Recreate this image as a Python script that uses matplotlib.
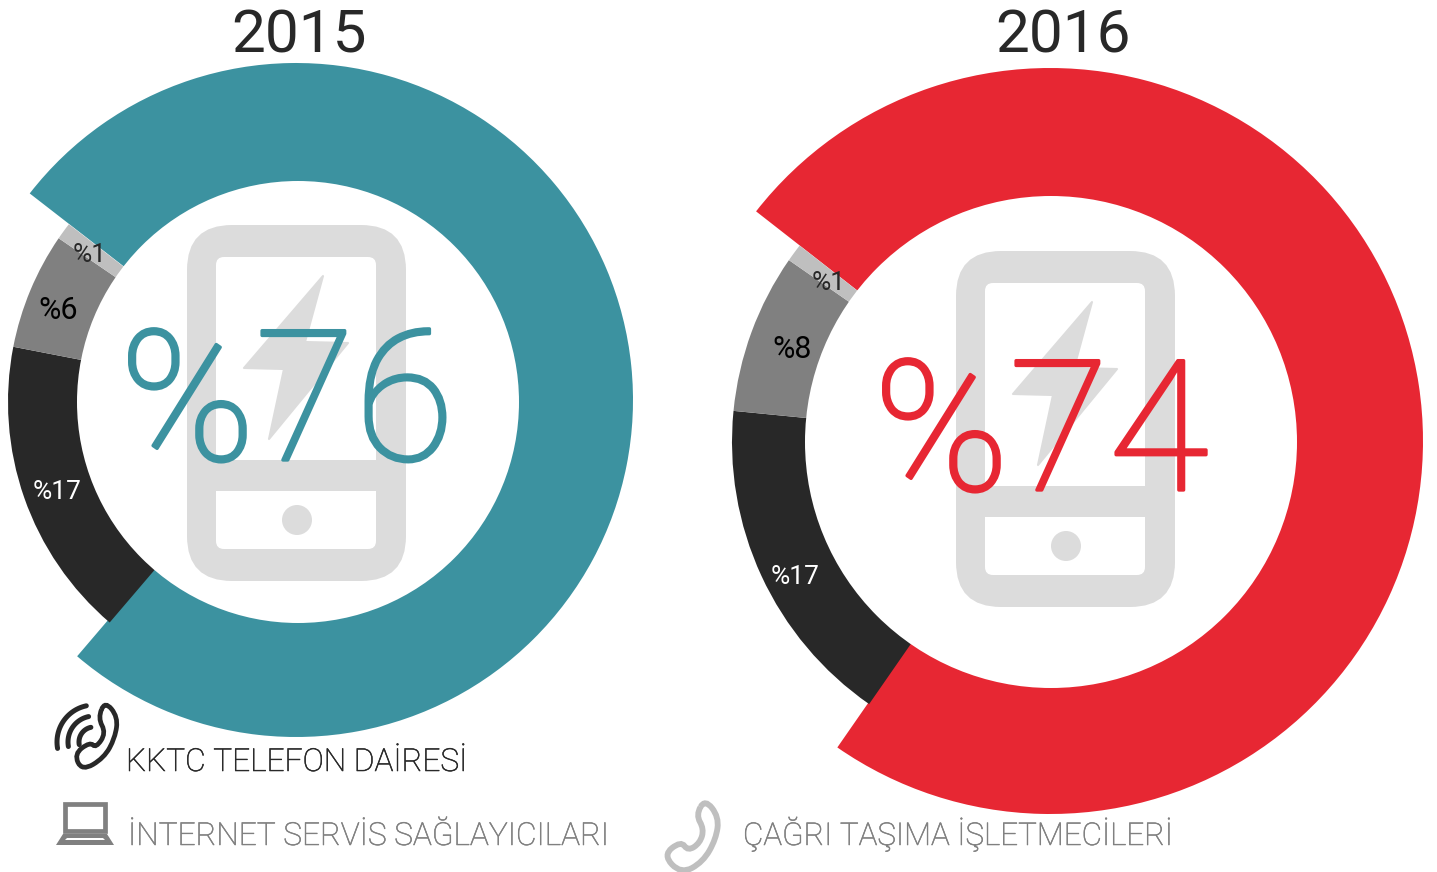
import numpy as np
import matplotlib
matplotlib.use("Agg")
import matplotlib.pyplot as plt
import matplotlib.patheffects as pe
from matplotlib.patches import FancyBboxPatch, Circle, Polygon, PathPatch, Rectangle
from matplotlib.path import Path

W, H = 1437, 872

years = ["2015", "2016"]
values_2015 = [75.75, 16.8, 6.5, 0.95]
values_2016 = [74.1, 16.9, 8.1, 0.9]
labels_2015 = ["%17", "%6", "%1"]
labels_2016 = ["%17", "%8", "%1"]
big_2015 = "%76"
big_2016 = "%74"
legend_labels = ["KKTC TELEFON DAİRESİ", "İNTERNET SERVİS SAĞLAYICILARI", "ÇAĞRI TAŞIMA İŞLETMECİLERİ"]

TEAL, RED, DARK, GRAY, LIGHT, PHONE = "#3C92A0", "#E72733", "#282828", "#808080", "#BFBFBF", "#DCDCDC"

plt.rcParams["font.family"] = ["Roboto", "DejaVu Sans"]
fig = plt.figure(figsize=(W / 100, H / 100), dpi=100)
ax = fig.add_axes([0, 0, 1, 1])


def Y(y):
    return H - y


def donut(values, main, cx, cy, R, hx, hy, r, cx2, cy2, R2, r2, start):
    wedges, _ = ax.pie(values, colors=[main, DARK, GRAY, LIGHT], startangle=start, counterclock=False,
                       center=(cx, Y(cy)), radius=R, frame=True,
                       wedgeprops=dict(width=R - r + 20, linewidth=0))
    for w in wedges[1:]:
        w.set_center((cx2, Y(cy2)))
        w.set_radius(R2)
        w.set_width(R2 - r2 + 15)
    for w in wedges:
        w.set_zorder(2)
    ax.add_patch(Circle((hx, Y(hy)), r, fc="white", ec="none", zorder=2.5))


donut(values_2015, TEAL, 296, 400, 337, 298, 402, 221, 298, 402, 290, 220, 142.2)
donut(values_2016, RED, 1050, 441, 373, 1051, 442, 246, 1051, 442, 319, 245, 142)
ax.set_xlim(0, W)
ax.set_ylim(0, H)
ax.set_aspect("auto")
ax.axis("off")


def phone(dx, dy):
    ax.add_patch(FancyBboxPatch((187 + dx + 45, Y(581 + dy) + 45), 219 - 90, 356 - 90,
                                boxstyle="round,pad=45,rounding_size=45", fc=PHONE, ec="none", zorder=3))
    ax.add_patch(FancyBboxPatch((216 + dx + 8, Y(460 + dy) + 8), 160 - 16, 203 - 16,
                                boxstyle="round,pad=8,rounding_size=8", fc="white", ec="none", zorder=3))
    ax.add_patch(Rectangle((216 + dx, Y(460 + dy)), 160, 20, fc="white", ec="none", zorder=3))
    ax.add_patch(FancyBboxPatch((216 + dx + 8, Y(549 + dy) + 8), 160 - 16, 58 - 16,
                                boxstyle="round,pad=8,rounding_size=8", fc="white", ec="none", zorder=3))
    ax.add_patch(Rectangle((216 + dx, Y(511 + dy)), 160, 20, fc="white", ec="none", zorder=3))
    ax.add_patch(Circle((297 + dx, Y(520 + dy)), 15, fc=PHONE, ec="none", zorder=3))
    bolt = [(323, 276), (244, 368), (284, 369), (269, 439), (348, 343), (305, 342)]
    ax.add_patch(Polygon([(x + dx, Y(y + dy)) for x, y in bolt], fc=PHONE, ec=PHONE, lw=1.5, joinstyle="round", zorder=3))


phone(0, 0)
phone(769, 26)


def label(x, y, s, size, color, ha="center", weight="light", thick=0):
    t = ax.text(x, Y(y), s, fontsize=size, color=color, ha=ha, va="baseline", zorder=5, fontweight=weight)
    if thick:
        t.set_path_effects([pe.withStroke(linewidth=thick, foreground=color)])


label(299, 53, years[0], 43.5, DARK, weight="normal")
label(1063, 53, years[1], 43.5, DARK, weight="normal")

label(287, 460, big_2015, 131, TEAL, thick=2.4)
label(1041, 490, big_2016, 131, RED, thick=2.4)

for (x, y), s, c, z in zip([(57, 499), (58, 319), (90, 262)], labels_2015, ["white", "black", DARK], [19, 22, 19]):
    label(x, y, s, z, c, weight="normal")
for (x, y), s, c, z in zip([(795, 584), (792, 358), (829, 290)], labels_2016, ["white", "black", DARK], [19, 22, 19]):
    label(x, y, s, z, c, weight="normal")

label(126, 771, legend_labels[0], 22.8, DARK, ha="left", thick=0.4)
label(128, 845, legend_labels[1], 22.8, GRAY, ha="left", thick=0.4)
label(743, 845, legend_labels[2], 22.6, GRAY, ha="left", thick=0.4)


def smooth_closed(pts):
    p = np.array([(x, Y(y)) for x, y in pts], float)
    n = len(p)
    mids = (p + np.roll(p, -1, axis=0)) / 2
    verts = [mids[-1]]
    codes = [Path.MOVETO]
    for i in range(n):
        verts += [p[i], mids[i]]
        codes += [Path.CURVE3, Path.CURVE3]
    return Path(verts, codes)


handset_1 = [(105, 701), (118, 717), (115, 738), (104, 758), (82, 771), (74, 754), (90, 742), (96, 748), (106, 733), (98, 718)]
handset_2 = [(705, 799), (719, 817), (716, 839), (703, 862), (681, 874), (663, 855), (681, 841), (688, 851), (700, 843), (704, 829), (696, 815)]
ax.add_patch(PathPatch(smooth_closed(handset_1), fc="none", ec=DARK, lw=3.4, zorder=5))
ax.add_patch(PathPatch(smooth_closed(handset_2), fc="none", ec=LIGHT, lw=4.2, zorder=5))

for rad in (37, 26, 15):
    t = np.radians(np.linspace(102, 190, 30))
    ax.plot(94 + rad * np.cos(t), Y(742) + rad * np.sin(t), color=DARK, lw=3.6, solid_capstyle="round", zorder=5)

ax.add_patch(Rectangle((65, Y(831)), 40, 27, fc="none", ec=GRAY, lw=3.4, zorder=5))
ax.add_patch(Polygon([(x, Y(y)) for x, y in [(56, 845), (114, 845), (107, 834), (63, 834)]], fc=GRAY, ec="none", zorder=5))
ax.add_patch(Polygon([(x, Y(y)) for x, y in [(65, 840), (105, 840), (103, 838), (67, 838)]], fc="white", ec="none", zorder=6))

fig.savefig("out.png", dpi=100, facecolor="white")
